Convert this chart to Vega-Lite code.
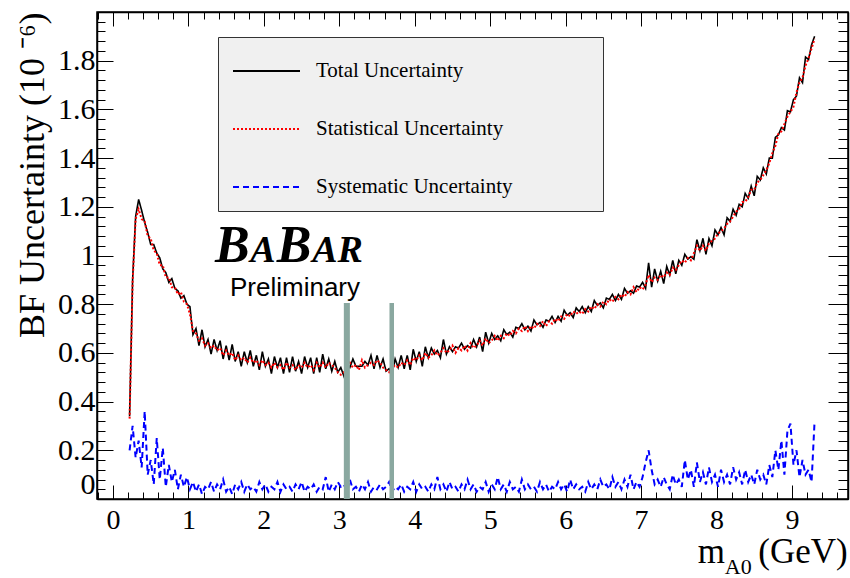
{
  "$schema": "https://vega.github.io/schema/vega-lite/v6.json",
  "width": 751,
  "height": 487,
  "autosize": {"type": "none"},
  "padding": {"left": 97, "top": 12, "right": 2, "bottom": 79},
  "background": "white",
  "config": {
    "view": {"stroke": "black", "strokeWidth": 1.5},
    "axis": {"domainColor": "black", "domainWidth": 1.5, "tickColor": "black", "tickWidth": 1, "grid": false, "labelColor": "black", "titleColor": "black", "labelFont": "Liberation Serif", "titleFont": "Liberation Serif", "titleFontWeight": "normal", "labelOverlap": false},
    "legend": {"orient": "none", "legendX": 121, "legendY": 25, "fillColor": "#f0f0f0", "strokeColor": "#333333", "padding": 14, "labelFont": "Liberation Serif", "labelFontSize": 21, "labelColor": "black", "symbolType": "stroke", "symbolSize": 4489, "symbolStrokeWidth": 2, "rowPadding": 37, "clipHeight": 20, "labelOffset": 15, "labelLimit": 600, "titleFont": "Liberation Serif", "titleFontSize": 6, "titlePadding": 4, "titleLimit": 1000, "titleOpacity": 0}
  },
  "data": {"values": [
{"m":0.22,"t":0.34,"s":0.33,"y":0.20},{"m":0.26,"t":0.90,"s":0.89,"y":0.30},{"m":0.30,"t":1.16,"s":1.15,"y":0.17},{"m":0.34,"t":1.23,"s":1.19,"y":0.24},
{"m":0.38,"t":1.185,"s":1.15,"y":0.13},{"m":0.42,"t":1.135,"s":1.14,"y":0.36},{"m":0.46,"t":1.095,"s":1.08,"y":0.10},{"m":0.50,"t":1.045,"s":1.07,"y":0.16},
{"m":0.54,"t":1.045,"s":1.02,"y":0.06},{"m":0.58,"t":1.01,"s":1.01,"y":0.25},{"m":0.62,"t":0.99,"s":0.96,"y":0.08},{"m":0.66,"t":0.945,"s":0.96,"y":0.21},
{"m":0.70,"t":0.93,"s":0.91,"y":0.05},{"m":0.74,"t":0.89,"s":0.91,"y":0.14},{"m":0.78,"t":0.905,"s":0.87,"y":0.07},{"m":0.82,"t":0.865,"s":0.87,"y":0.12},
{"m":0.86,"t":0.855,"s":0.84,"y":0.04},{"m":0.90,"t":0.825,"s":0.85,"y":0.10},{"m":0.94,"t":0.835,"s":0.81,"y":0.05},{"m":0.98,"t":0.80,"s":0.80,"y":0.09},
{"m":1.02,"t":0.79,"s":0.76,"y":0.04},{"m":1.06,"t":0.675,"s":0.69,"y":0.07},{"m":1.10,"t":0.70,"s":0.68,"y":0.03},{"m":1.14,"t":0.63,"s":0.65,"y":0.06},
{"m":1.18,"t":0.695,"s":0.66,"y":0.02},{"m":1.22,"t":0.625,"s":0.63,"y":0.05},{"m":1.26,"t":0.655,"s":0.64,"y":0.04},{"m":1.30,"t":0.595,"s":0.62,"y":0.07},
{"m":1.34,"t":0.655,"s":0.63,"y":0.03},{"m":1.38,"t":0.61,"s":0.61,"y":0.06},{"m":1.42,"t":0.65,"s":0.62,"y":0.04},{"m":1.46,"t":0.575,"s":0.59,"y":0.08},
{"m":1.50,"t":0.63,"s":0.61,"y":0.03},{"m":1.54,"t":0.57,"s":0.59,"y":0.05},{"m":1.58,"t":0.635,"s":0.60,"y":0.02},{"m":1.62,"t":0.565,"s":0.57,"y":0.06},
{"m":1.66,"t":0.605,"s":0.59,"y":0.04},{"m":1.70,"t":0.545,"s":0.57,"y":0.07},{"m":1.74,"t":0.605,"s":0.58,"y":0.03},{"m":1.78,"t":0.56,"s":0.56,"y":0.06},
{"m":1.82,"t":0.61,"s":0.58,"y":0.04},{"m":1.86,"t":0.545,"s":0.56,"y":0.05},{"m":1.90,"t":0.59,"s":0.57,"y":0.03},{"m":1.94,"t":0.53,"s":0.55,"y":0.07},
{"m":1.98,"t":0.605,"s":0.57,"y":0.04},{"m":2.02,"t":0.545,"s":0.55,"y":0.06},{"m":2.06,"t":0.575,"s":0.56,"y":0.03},{"m":2.10,"t":0.515,"s":0.54,"y":0.05},
{"m":2.14,"t":0.585,"s":0.56,"y":0.04},{"m":2.18,"t":0.54,"s":0.54,"y":0.07},{"m":2.22,"t":0.58,"s":0.55,"y":0.03},{"m":2.26,"t":0.515,"s":0.53,"y":0.06},
{"m":2.30,"t":0.58,"s":0.56,"y":0.04},{"m":2.34,"t":0.52,"s":0.54,"y":0.05},{"m":2.38,"t":0.585,"s":0.55,"y":0.03},{"m":2.42,"t":0.525,"s":0.53,"y":0.06},
{"m":2.46,"t":0.565,"s":0.55,"y":0.04},{"m":2.50,"t":0.515,"s":0.54,"y":0.07},{"m":2.54,"t":0.585,"s":0.56,"y":0.03},{"m":2.58,"t":0.54,"s":0.54,"y":0.05},
{"m":2.62,"t":0.58,"s":0.55,"y":0.04},{"m":2.66,"t":0.515,"s":0.53,"y":0.06},{"m":2.70,"t":0.58,"s":0.56,"y":0.03},{"m":2.74,"t":0.52,"s":0.54,"y":0.05},
{"m":2.78,"t":0.595,"s":0.56,"y":0.04},{"m":2.82,"t":0.535,"s":0.54,"y":0.09},{"m":2.86,"t":0.575,"s":0.56,"y":0.03},{"m":2.90,"t":0.525,"s":0.55,"y":0.06},
{"m":2.94,"t":0.565,"s":0.54,"y":0.04},{"m":2.98,"t":0.52,"s":0.52,"y":0.07},{"m":3.02,"t":0.54,"s":0.51,"y":0.05},{"m":3.06,"t":0.505,"s":0.52,"y":0.06},
{"m":3.10,"t":0.56,"s":0.54,"y":0.03},{"m":3.14,"t":0.54,"s":0.56,"y":0.08},{"m":3.18,"t":0.575,"s":0.54,"y":0.04},{"m":3.22,"t":0.545,"s":0.55,"y":0.05},
{"m":3.26,"t":0.545,"s":0.53,"y":0.03},{"m":3.30,"t":0.545,"s":0.57,"y":0.06},{"m":3.34,"t":0.565,"s":0.54,"y":0.04},{"m":3.38,"t":0.55,"s":0.55,"y":0.07},
{"m":3.42,"t":0.59,"s":0.56,"y":0.03},{"m":3.46,"t":0.535,"s":0.55,"y":0.05},{"m":3.50,"t":0.59,"s":0.57,"y":0.04},{"m":3.54,"t":0.54,"s":0.56,"y":0.06},
{"m":3.58,"t":0.575,"s":0.54,"y":0.04},{"m":3.62,"t":0.525,"s":0.53,"y":0.05},{"m":3.66,"t":0.535,"s":0.52,"y":0.07},{"m":3.70,"t":0.515,"s":0.54,"y":0.03},
{"m":3.74,"t":0.575,"s":0.55,"y":0.05},{"m":3.78,"t":0.54,"s":0.54,"y":0.04},{"m":3.82,"t":0.59,"s":0.56,"y":0.06},{"m":3.86,"t":0.535,"s":0.55,"y":0.03},
{"m":3.90,"t":0.59,"s":0.57,"y":0.05},{"m":3.94,"t":0.53,"s":0.55,"y":0.04},{"m":3.98,"t":0.615,"s":0.58,"y":0.07},{"m":4.02,"t":0.565,"s":0.57,"y":0.03},
{"m":4.06,"t":0.605,"s":0.59,"y":0.06},{"m":4.10,"t":0.545,"s":0.57,"y":0.04},{"m":4.14,"t":0.625,"s":0.60,"y":0.05},{"m":4.18,"t":0.58,"s":0.58,"y":0.03},
{"m":4.22,"t":0.62,"s":0.59,"y":0.06},{"m":4.26,"t":0.595,"s":0.61,"y":0.04},{"m":4.30,"t":0.61,"s":0.59,"y":0.09},{"m":4.34,"t":0.58,"s":0.60,"y":0.04},
{"m":4.38,"t":0.655,"s":0.62,"y":0.06},{"m":4.42,"t":0.595,"s":0.60,"y":0.03},{"m":4.46,"t":0.625,"s":0.61,"y":0.07},{"m":4.50,"t":0.605,"s":0.63,"y":0.04},
{"m":4.54,"t":0.625,"s":0.60,"y":0.05},{"m":4.58,"t":0.62,"s":0.62,"y":0.03},{"m":4.62,"t":0.64,"s":0.61,"y":0.06},{"m":4.66,"t":0.615,"s":0.63,"y":0.04},
{"m":4.70,"t":0.63,"s":0.61,"y":0.08},{"m":4.74,"t":0.62,"s":0.64,"y":0.04},{"m":4.78,"t":0.655,"s":0.62,"y":0.06},{"m":4.82,"t":0.625,"s":0.63,"y":0.03},
{"m":4.86,"t":0.665,"s":0.65,"y":0.05},{"m":4.90,"t":0.605,"s":0.63,"y":0.04},{"m":4.94,"t":0.685,"s":0.66,"y":0.07},{"m":4.98,"t":0.64,"s":0.64,"y":0.03},
{"m":5.02,"t":0.68,"s":0.65,"y":0.06},{"m":5.06,"t":0.655,"s":0.67,"y":0.04},{"m":5.10,"t":0.67,"s":0.65,"y":0.09},{"m":5.14,"t":0.65,"s":0.67,"y":0.04},
{"m":5.18,"t":0.695,"s":0.66,"y":0.06},{"m":5.22,"t":0.675,"s":0.68,"y":0.03},{"m":5.26,"t":0.685,"s":0.67,"y":0.07},{"m":5.30,"t":0.665,"s":0.69,"y":0.04},
{"m":5.34,"t":0.705,"s":0.68,"y":0.05},{"m":5.38,"t":0.70,"s":0.70,"y":0.03},{"m":5.42,"t":0.72,"s":0.69,"y":0.08},{"m":5.46,"t":0.695,"s":0.71,"y":0.04},
{"m":5.50,"t":0.71,"s":0.69,"y":0.06},{"m":5.54,"t":0.69,"s":0.71,"y":0.04},{"m":5.58,"t":0.735,"s":0.70,"y":0.05},{"m":5.62,"t":0.715,"s":0.72,"y":0.03},
{"m":5.66,"t":0.725,"s":0.71,"y":0.07},{"m":5.70,"t":0.705,"s":0.73,"y":0.04},{"m":5.74,"t":0.735,"s":0.71,"y":0.06},{"m":5.78,"t":0.73,"s":0.73,"y":0.03},
{"m":5.82,"t":0.75,"s":0.72,"y":0.05},{"m":5.86,"t":0.725,"s":0.74,"y":0.04},{"m":5.90,"t":0.75,"s":0.73,"y":0.07},{"m":5.94,"t":0.73,"s":0.75,"y":0.04},
{"m":5.98,"t":0.775,"s":0.74,"y":0.06},{"m":6.02,"t":0.755,"s":0.76,"y":0.03},{"m":6.06,"t":0.765,"s":0.75,"y":0.08},{"m":6.10,"t":0.745,"s":0.77,"y":0.04},
{"m":6.14,"t":0.785,"s":0.76,"y":0.06},{"m":6.18,"t":0.77,"s":0.77,"y":0.04},{"m":6.22,"t":0.79,"s":0.76,"y":0.05},{"m":6.26,"t":0.765,"s":0.78,"y":0.03},
{"m":6.30,"t":0.79,"s":0.77,"y":0.07},{"m":6.34,"t":0.77,"s":0.79,"y":0.04},{"m":6.38,"t":0.815,"s":0.78,"y":0.06},{"m":6.42,"t":0.795,"s":0.80,"y":0.04},
{"m":6.46,"t":0.805,"s":0.79,"y":0.08},{"m":6.50,"t":0.785,"s":0.81,"y":0.05},{"m":6.54,"t":0.825,"s":0.80,"y":0.06},{"m":6.58,"t":0.82,"s":0.82,"y":0.04},
{"m":6.62,"t":0.84,"s":0.81,"y":0.09},{"m":6.66,"t":0.815,"s":0.83,"y":0.05},{"m":6.70,"t":0.84,"s":0.82,"y":0.07},{"m":6.74,"t":0.82,"s":0.84,"y":0.04},
{"m":6.78,"t":0.865,"s":0.83,"y":0.08},{"m":6.82,"t":0.845,"s":0.85,"y":0.05},{"m":6.86,"t":0.855,"s":0.84,"y":0.10},{"m":6.90,"t":0.845,"s":0.87,"y":0.04},
{"m":6.94,"t":0.875,"s":0.85,"y":0.07},{"m":6.98,"t":0.87,"s":0.87,"y":0.05},{"m":7.02,"t":0.89,"s":0.86,"y":0.09},{"m":7.06,"t":0.865,"s":0.88,"y":0.15},
{"m":7.10,"t":0.97,"s":0.92,"y":0.20},{"m":7.14,"t":0.87,"s":0.89,"y":0.12},{"m":7.18,"t":0.945,"s":0.91,"y":0.06},{"m":7.22,"t":0.895,"s":0.90,"y":0.08},
{"m":7.26,"t":0.935,"s":0.92,"y":0.05},{"m":7.30,"t":0.885,"s":0.91,"y":0.09},{"m":7.34,"t":0.955,"s":0.93,"y":0.06},{"m":7.38,"t":0.92,"s":0.92,"y":0.04},
{"m":7.42,"t":0.98,"s":0.95,"y":0.10},{"m":7.46,"t":0.925,"s":0.94,"y":0.06},{"m":7.50,"t":0.98,"s":0.96,"y":0.08},{"m":7.54,"t":0.96,"s":0.98,"y":0.05},
{"m":7.58,"t":1.005,"s":0.97,"y":0.16},{"m":7.62,"t":0.985,"s":0.99,"y":0.08},{"m":7.66,"t":0.995,"s":0.98,"y":0.12},{"m":7.70,"t":0.985,"s":1.01,"y":0.05},
{"m":7.74,"t":1.065,"s":1.04,"y":0.15},{"m":7.78,"t":1.02,"s":1.02,"y":0.07},{"m":7.82,"t":1.07,"s":1.04,"y":0.11},{"m":7.86,"t":1.005,"s":1.02,"y":0.06},
{"m":7.90,"t":1.07,"s":1.05,"y":0.13},{"m":7.94,"t":1.04,"s":1.06,"y":0.07},{"m":7.98,"t":1.105,"s":1.07,"y":0.10},{"m":8.02,"t":1.085,"s":1.09,"y":0.05},
{"m":8.06,"t":1.115,"s":1.10,"y":0.12},{"m":8.10,"t":1.085,"s":1.11,"y":0.07},{"m":8.14,"t":1.155,"s":1.13,"y":0.10},{"m":8.18,"t":1.14,"s":1.14,"y":0.06},
{"m":8.22,"t":1.19,"s":1.16,"y":0.13},{"m":8.26,"t":1.165,"s":1.18,"y":0.08},{"m":8.30,"t":1.21,"s":1.19,"y":0.11},{"m":8.34,"t":1.20,"s":1.22,"y":0.06},
{"m":8.38,"t":1.255,"s":1.22,"y":0.12},{"m":8.42,"t":1.235,"s":1.24,"y":0.07},{"m":8.46,"t":1.285,"s":1.27,"y":0.10},{"m":8.50,"t":1.245,"s":1.27,"y":0.06},
{"m":8.54,"t":1.325,"s":1.30,"y":0.12},{"m":8.58,"t":1.31,"s":1.31,"y":0.08},{"m":8.62,"t":1.36,"s":1.33,"y":0.10},{"m":8.66,"t":1.335,"s":1.35,"y":0.06},
{"m":8.70,"t":1.40,"s":1.38,"y":0.14},{"m":8.74,"t":1.40,"s":1.42,"y":0.09},{"m":8.78,"t":1.485,"s":1.45,"y":0.20},{"m":8.82,"t":1.495,"s":1.50,"y":0.12},
{"m":8.86,"t":1.525,"s":1.51,"y":0.24},{"m":8.90,"t":1.515,"s":1.54,"y":0.10},{"m":8.94,"t":1.595,"s":1.57,"y":0.28},{"m":8.98,"t":1.59,"s":1.59,"y":0.31},
{"m":9.02,"t":1.64,"s":1.61,"y":0.14},{"m":9.06,"t":1.655,"s":1.67,"y":0.20},{"m":9.10,"t":1.73,"s":1.71,"y":0.09},{"m":9.14,"t":1.71,"s":1.73,"y":0.16},
{"m":9.18,"t":1.815,"s":1.78,"y":0.10},{"m":9.22,"t":1.805,"s":1.81,"y":0.12},{"m":9.26,"t":1.865,"s":1.85,"y":0.07},{"m":9.30,"t":1.90,"s":1.89,"y":0.32}
  ]},
  "resolve": {"axis": {"x": "independent", "y": "independent"}},
  "layer": [
    {
      "mark": {"type": "line", "strokeWidth": 1.6, "clip": true},
      "encoding": {
        "x": {"field": "m", "type": "quantitative", "scale": {"domain": [-0.212, 9.743], "nice": false, "zero": false},
          "axis": {"orient": "bottom", "title": null,
            "values": [-0.2,0,0.2,0.4,0.6,0.8,1,1.2,1.4,1.6,1.8,2,2.2,2.4,2.6,2.8,3,3.2,3.4,3.6,3.8,4,4.2,4.4,4.6,4.8,5,5.2,5.4,5.6,5.8,6,6.2,6.4,6.6,6.8,7,7.2,7.4,7.6,7.8,8,8.2,8.4,8.6,8.8,9,9.2,9.4,9.6],
            "tickSize": {"condition": {"test": "abs(datum.value-round(datum.value))<0.001", "value": -14}, "value": -7},
            "labelExpr": "abs(datum.value-round(datum.value))<0.001 && datum.value>-0.1 ? format(datum.value,'d') : ''",
            "labelFontSize": 28, "labelPadding": 21, "labelFlush": false}},
        "y": {"field": "t", "type": "quantitative", "scale": {"domain": [0, 2.0], "nice": false},
          "axis": {"orient": "left", "title": "BF Uncertainty  (10 \u207b\u2076)", "titleFontSize": 36, "titleAnchor": "end", "titlePadding": 6,
            "values": [0,0.04,0.08,0.12,0.16,0.2,0.24,0.28,0.32,0.36,0.4,0.44,0.48,0.52,0.56,0.6,0.64,0.68,0.72,0.76,0.8,0.84,0.88,0.92,0.96,1,1.04,1.08,1.12,1.16,1.2,1.24,1.28,1.32,1.36,1.4,1.44,1.48,1.52,1.56,1.6,1.64,1.68,1.72,1.76,1.8,1.84,1.88,1.92,1.96,2],
            "tickSize": {"condition": {"test": "abs(datum.value*5-round(datum.value*5))<0.001", "value": -16}, "value": -8},
            "labelExpr": "abs(datum.value*5-round(datum.value*5))<0.001 && datum.value<1.9 ? format(datum.value,'~g') : ''",
            "labelFontSize": 30, "labelPadding": 18, "labelFlush": true}},
        "color": {"datum": "Total Uncertainty", "type": "nominal", "scale": {"domain": ["Total Uncertainty", "Statistical Uncertainty", "Systematic Uncertainty"], "range": ["black", "red", "blue"]}, "legend": {"title": "MMMMMMMMMMMMMMMMMMMMMMMMMMMMMMMMMMMMMMMMMMMMMMMMMMMMMMMMMMMMMMM"}},
        "strokeDash": {"datum": "Total Uncertainty", "type": "nominal", "scale": {"domain": ["Total Uncertainty", "Statistical Uncertainty", "Systematic Uncertainty"], "range": [[1, 0], [2, 2], [6, 4]]}, "legend": {"title": "MMMMMMMMMMMMMMMMMMMMMMMMMMMMMMMMMMMMMMMMMMMMMMMMMMMMMMMMMMMMMMM"}}
      }
    },
    {
      "mark": {"type": "line", "strokeWidth": 2, "clip": true},
      "encoding": {
        "x": {"field": "m", "type": "quantitative",
          "axis": {"orient": "top", "title": null, "labels": false,
            "values": [-0.2,0,0.2,0.4,0.6,0.8,1,1.2,1.4,1.6,1.8,2,2.2,2.4,2.6,2.8,3,3.2,3.4,3.6,3.8,4,4.2,4.4,4.6,4.8,5,5.2,5.4,5.6,5.8,6,6.2,6.4,6.6,6.8,7,7.2,7.4,7.6,7.8,8,8.2,8.4,8.6,8.8,9,9.2,9.4,9.6],
            "tickSize": {"condition": {"test": "abs(datum.value-round(datum.value))<0.001", "value": -14}, "value": -7}}},
        "y": {"field": "s", "type": "quantitative",
          "axis": {"orient": "right", "title": null, "labels": false,
            "values": [0,0.04,0.08,0.12,0.16,0.2,0.24,0.28,0.32,0.36,0.4,0.44,0.48,0.52,0.56,0.6,0.64,0.68,0.72,0.76,0.8,0.84,0.88,0.92,0.96,1,1.04,1.08,1.12,1.16,1.2,1.24,1.28,1.32,1.36,1.4,1.44,1.48,1.52,1.56,1.6,1.64,1.68,1.72,1.76,1.8,1.84,1.88,1.92,1.96,2],
            "tickSize": {"condition": {"test": "abs(datum.value*5-round(datum.value*5))<0.001", "value": -20}, "value": -10}}},
        "color": {"datum": "Statistical Uncertainty", "type": "nominal"},
        "strokeDash": {"datum": "Statistical Uncertainty", "type": "nominal"}
      }
    },
    {
      "mark": {"type": "line", "strokeWidth": 2, "clip": true},
      "encoding": {
        "x": {"field": "m", "type": "quantitative", "axis": null},
        "y": {"field": "y", "type": "quantitative", "axis": null},
        "color": {"datum": "Systematic Uncertainty", "type": "nominal"},
        "strokeDash": {"datum": "Systematic Uncertainty", "type": "nominal"}
      }
    },
    {
      "data": {"values": [{"lo": 3.06, "hi": 3.14, "top": 0.805}, {"lo": 3.665, "hi": 3.725, "top": 0.805}]},
      "mark": {"type": "rect", "color": "#8aa8a0"},
      "encoding": {
        "x": {"field": "lo", "type": "quantitative", "axis": null},
        "x2": {"field": "hi"},
        "y": {"field": "top", "type": "quantitative", "axis": null},
        "y2": {"datum": 0}
      }
    },
    {
      "data": {"values": [{}]},
      "mark": {"type": "text", "text": "B", "font": "Liberation Serif", "fontWeight": "bold", "fontStyle": "italic", "fontSize": 52, "align": "left", "baseline": "alphabetic", "color": "black"},
      "encoding": {"x": {"datum": 1.352, "type": "quantitative", "axis": null}, "y": {"datum": 0.975, "type": "quantitative", "axis": null}}
    },
    {
      "data": {"values": [{}]},
      "mark": {"type": "text", "text": "A", "font": "Liberation Serif", "fontWeight": "bold", "fontStyle": "italic", "fontSize": 38, "align": "left", "baseline": "alphabetic", "color": "black"},
      "encoding": {"x": {"datum": 1.82, "type": "quantitative", "axis": null}, "y": {"datum": 0.975, "type": "quantitative", "axis": null}}
    },
    {
      "data": {"values": [{}]},
      "mark": {"type": "text", "text": "B", "font": "Liberation Serif", "fontWeight": "bold", "fontStyle": "italic", "fontSize": 52, "align": "left", "baseline": "alphabetic", "color": "black"},
      "encoding": {"x": {"datum": 2.17, "type": "quantitative", "axis": null}, "y": {"datum": 0.975, "type": "quantitative", "axis": null}}
    },
    {
      "data": {"values": [{}]},
      "mark": {"type": "text", "text": "AR", "font": "Liberation Serif", "fontWeight": "bold", "fontStyle": "italic", "fontSize": 38, "align": "left", "baseline": "alphabetic", "color": "black"},
      "encoding": {"x": {"datum": 2.64, "type": "quantitative", "axis": null}, "y": {"datum": 0.975, "type": "quantitative", "axis": null}}
    },
    {
      "data": {"values": [{}]},
      "mark": {"type": "text", "text": "Preliminary", "font": "Liberation Sans", "fontSize": 26, "align": "left", "baseline": "alphabetic", "color": "black"},
      "encoding": {"x": {"datum": 1.551, "type": "quantitative", "axis": null}, "y": {"datum": 0.835, "type": "quantitative", "axis": null}}
    },
    {
      "data": {"values": [{}]},
      "mark": {"type": "text", "text": "m", "font": "Liberation Serif", "fontSize": 35, "align": "left", "baseline": "alphabetic", "color": "black"},
      "encoding": {"x": {"datum": 7.75, "type": "quantitative", "axis": null}, "y": {"datum": -0.263, "type": "quantitative", "axis": null}}
    },
    {
      "data": {"values": [{}]},
      "mark": {"type": "text", "text": "A0", "font": "Liberation Serif", "fontSize": 22, "align": "left", "baseline": "alphabetic", "color": "black"},
      "encoding": {"x": {"datum": 8.11, "type": "quantitative", "axis": null}, "y": {"datum": -0.31, "type": "quantitative", "axis": null}}
    },
    {
      "data": {"values": [{}]},
      "mark": {"type": "text", "text": "(GeV)", "font": "Liberation Serif", "fontSize": 35, "align": "right", "baseline": "alphabetic", "color": "black"},
      "encoding": {"x": {"datum": 9.74, "type": "quantitative", "axis": null}, "y": {"datum": -0.263, "type": "quantitative", "axis": null}}
    }
  ]
}
